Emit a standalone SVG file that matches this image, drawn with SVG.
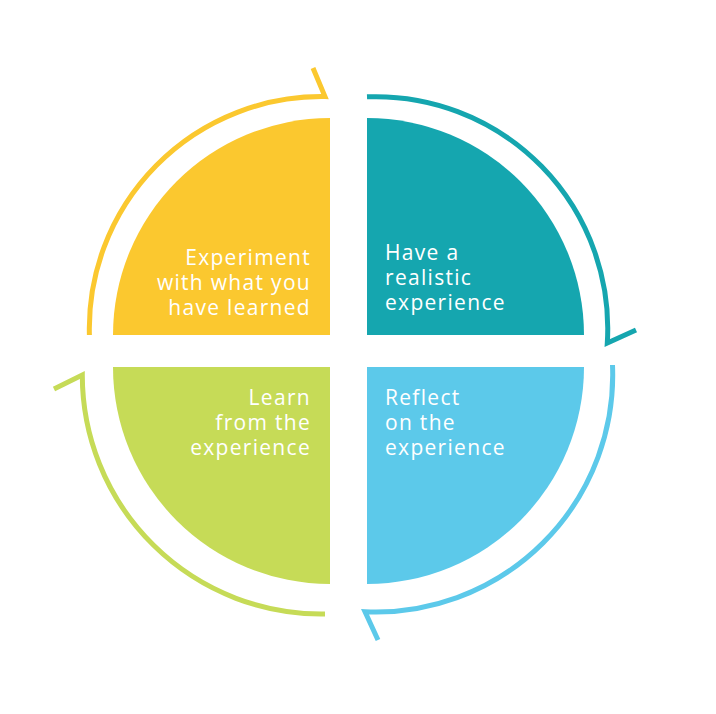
<svg xmlns="http://www.w3.org/2000/svg" width="716" height="714" viewBox="0 0 716 714">
  <style>
    .lbl { font-family: "Open Sans", "Liberation Sans", sans-serif; font-size: 21px; fill: #ffffff; letter-spacing: 1.3px; }
    .end { text-anchor: end; }
    .arc { fill: none; stroke-width: 5; stroke-linecap: butt; stroke-linejoin: miter; }
  </style>
  <rect width="716" height="714" fill="#ffffff"/>
  <g id="experiment">
    <path d="M330,335 L113,335 A217,217 0 0 1 330,118 Z" fill="#FBC82F"/>
    <text class="lbl end" x="311" y="265">Experiment</text>
    <text class="lbl end" x="311" y="290">with what you</text>
    <text class="lbl end" x="311" y="315">have learned</text>
  </g>
  <g id="have-experience">
    <path d="M367,335 L367,118 A217,217 0 0 1 584,335 Z" fill="#15A6AF"/>
    <text class="lbl" x="385" y="260">Have a</text>
    <text class="lbl" x="385" y="285">realistic</text>
    <text class="lbl" x="385" y="310">experience</text>
  </g>
  <g id="reflect">
    <path d="M367,367 L584,367 A217,217 0 0 1 367,584 Z" fill="#5CC9EA"/>
    <text class="lbl" x="385" y="405">Reflect</text>
    <text class="lbl" x="385" y="430">on the</text>
    <text class="lbl" x="385" y="455">experience</text>
  </g>
  <g id="learn">
    <path d="M330,367 L330,584 A217,217 0 0 1 113,367 Z" fill="#C6DB57"/>
    <text class="lbl end" x="311" y="405">Learn</text>
    <text class="lbl end" x="311" y="430">from the</text>
    <text class="lbl end" x="311" y="455">experience</text>
  </g>
  <g id="connectors">
    <path class="arc" stroke="#FBC82F" d="M89.4,335 A232,232 0 0 1 325,96.6 L313,68"/>
    <path class="arc" stroke="#15A6AF" d="M367,96.8 A232,232 0 0 1 607.3,343 L636,330"/>
    <path class="arc" stroke="#5CC9EA" d="M612.5,365 A237,237 0 0 1 365,611.8 L378,640"/>
    <path class="arc" stroke="#C6DB57" d="M325,614 A239,239 0 0 1 82.3,375 L54,389"/>
  </g>
</svg>
